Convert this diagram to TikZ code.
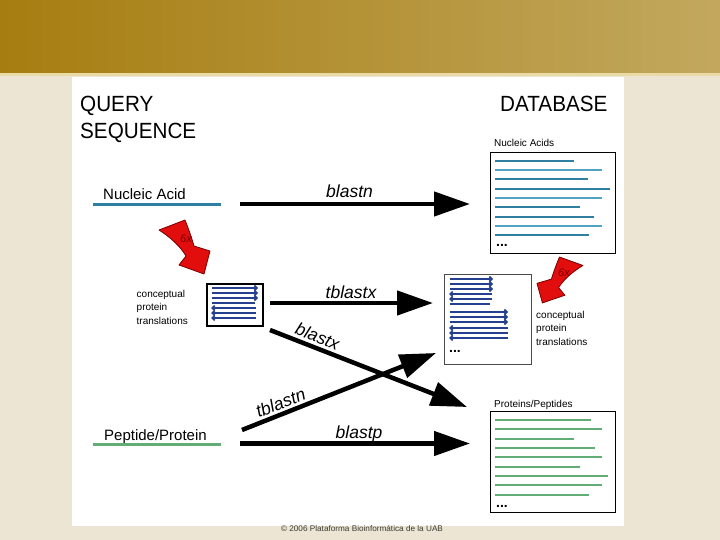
\documentclass[tikz,border=0pt]{standalone}
\usepackage{fontspec}
\setmainfont{Liberation Sans}
\usetikzlibrary{arrows.meta}

\definecolor{bandgold}{HTML}{A67D10}
\definecolor{bandlight}{HTML}{C2A85E}
\definecolor{bandedge}{HTML}{E9DAA6}
\definecolor{slidebg}{HTML}{ECE5D3}
\definecolor{nucblue}{HTML}{2F7FA3}
\definecolor{nuclight}{HTML}{52A2C4}
\definecolor{protgreen}{HTML}{62AC75}
\definecolor{transnavy}{HTML}{24408E}
\definecolor{sixred}{HTML}{E20D0D}
\definecolor{sixdark}{HTML}{7A0000}
\definecolor{creditgray}{HTML}{3C3A34}

\tikzset{
  search/.style={line width=4.5pt, -{Triangle[length=36pt,width=24pt]}},
  progname/.style={font=\fontsize{17.5}{17.5}\selectfont\itshape, inner sep=0pt},
  qtitle/.style={font=\fontsize{22}{26.5}\selectfont, inner sep=0pt, xscale=0.94},
  seqname/.style={font=\fontsize{15}{15}\selectfont, inner sep=0pt},
  dbname/.style={font=\fontsize{10}{10}\selectfont, inner sep=0pt},
  transnote/.style={font=\fontsize{10}{13.3}\selectfont, inner sep=0pt, align=left},
  dbbox/.style={draw=black, line width=1pt, inner sep=0pt, anchor=north west},
  transbox/.style={draw=black, line width=1.8pt, inner sep=0pt, anchor=north west},
  dbrow/.style={line width=2pt},
  transrow/.style={draw=transnavy, line width=1.7pt},
  fwdrow/.style={transrow, -{Straight Barb[length=2.5pt,width=5pt]}},
  revrow/.style={transrow, {Straight Barb[length=2.5pt,width=5pt]}-},
  sixfold/.style={fill=sixred, draw=sixdark, line width=0.8pt, line join=round},
  sixlabel/.style={font=\fontsize{11}{11}\selectfont\itshape, text=sixdark, inner sep=0pt},
  dbdots/.style={font=\fontsize{14}{14}\selectfont\bfseries, inner sep=0pt, anchor=base west},
}

\begin{document}
\begin{tikzpicture}[x=1pt,y=-1pt]
    % slide size
      \useasboundingbox (0,0) rectangle (720,540);

    % red 6x translation arrow, drawn for the query side
      \newcommand{\sixarrow}[2]{%
        \filldraw[sixfold] (159,230) -- (185,220) .. controls (189,230) and (192,239) .. (194,246)
          -- (210,251) -- (204,274) -- (179,265) -- (186,256)
          .. controls (180,246) and (170,237) .. cycle;
        \node[sixlabel] (#1) at (#2) {6x};
      }

    % Draw the slide background
      \fill[slidebg] (0,0) rectangle (720,540);
      \shade[left color=bandgold, middle color=bandgold, right color=bandlight] (0,0) rectangle (720,73);
      \fill[bandedge] (0,73) rectangle (720,76);
      \fill[white] (72,77) rectangle (624,526);

    % Draw the headings
      \node[qtitle, align=left, anchor=north west] (query) at (80,96) {QUERY\\SEQUENCE};
      \node[qtitle, anchor=base west] (database) at (500,112) {DATABASE};

    % Draw the query sequences
      \node[seqname, anchor=base west] (nucacid) at (103,200) {Nucleic Acid};
      \draw[nucblue, line width=3pt] (93,205) -- (221,205);
      \node[seqname, anchor=base west] (peptide) at (104,440.7) {Peptide/Protein};
      \draw[protgreen, line width=3pt] (93,444) -- (221,444);

    % Draw the nucleic acid database
      \node[dbname, anchor=base west] (nucdbname) at (494,146.7) {Nucleic Acids};
      \node[dbbox, minimum width=125pt, minimum height=101pt] (nucdb) at (489.5,152) {};
      \foreach \y/\x/\c in {160.7/574/nucblue, 170/602/nuclight, 179.3/588/nucblue,
                             188.7/610/nucblue, 198/602/nuclight, 207.3/580/nucblue,
                             216.7/594/nucblue, 226/602/nuclight, 235.3/589/nucblue}
        \draw[dbrow, \c] (495,\y) -- (\x,\y);
      \node[dbdots] (nucdots) at (496,246) {...};

    % Draw the protein database
      \node[dbname, anchor=base west] (protdbname) at (494,407.3) {Proteins/Peptides};
      \node[dbbox, minimum width=125pt, minimum height=101pt] (protdb) at (489.5,410.7) {};
      \foreach \y/\x in {420/591, 429.3/602, 439/574, 448/595, 457.3/602,
                         466.7/580, 476/608, 485.3/602, 495/589}
        \draw[dbrow, protgreen] (495,\y) -- (\x,\y);
      \node[dbdots] (protdots) at (496,507) {...};

    % Draw the conceptual translations of the query
      \node[transbox, minimum width=56pt, minimum height=42pt] (qtrans) at (206,283) {};
      \foreach \y in {288,293,298}
        \draw[fwdrow] (212,\y) -- (258,\y);
      \draw[transrow] (212,303) -- (255,303);
      \foreach \y in {308,313,318}
        \draw[revrow] (211,\y) -- (256,\y);
      \node[transnote, anchor=north west] (qnote) at (136.5,290) {conceptual\\protein\\translations};

    % Draw the conceptual translations of the database
      \node[dbbox, draw=black!70, minimum width=87pt, minimum height=90pt] (dbtrans) at (443.5,273.5) {};
      \foreach \y in {279,284,289}
        \draw[fwdrow] (450,\y) -- (493,\y);
      \foreach \y in {294,299}
        \draw[revrow] (449,\y) -- (492,\y);
      \draw[transrow] (450,304) -- (490,304);
      \foreach \y in {312,317,322}
        \draw[fwdrow] (450,\y) -- (508,\y);
      \foreach \y in {328,333,338}
        \draw[revrow] (449,\y) -- (508,\y);
      \node[dbdots] (transdots) at (449,352) {...};
      \node[transnote, anchor=north west] (dbnote) at (536,311) {conceptual\\protein\\translations};

    % Draw the 6x translation arrows
      \sixarrow{sixq}{186,239}
      \begin{scope}[shift={(726,70)}, xscale=-0.9, yscale=0.85]
        \sixarrow{sixdb}{180,238}
      \end{scope}

    % Draw the search arrows
      \coordinate (blastn-from) at (240,204);
      \coordinate (blastn-to) at (470,204);
      \coordinate (tblastx-from) at (270,303);
      \coordinate (tblastx-to) at (433,303);
      \coordinate (blastx-from) at (270,330);
      \coordinate (blastx-to) at (467,407);
      \coordinate (tblastn-from) at (242,430);
      \coordinate (tblastn-to) at (436,353);
      \coordinate (blastp-from) at (240,443.5);
      \coordinate (blastp-to) at (470,443.5);

      \draw[search] (blastn-from) -- (blastn-to);
      \draw[search] (tblastx-from) -- (tblastx-to);
      \draw[search] (blastx-from) -- node[progname, sloped, pos=0.22, above=3pt] (blastx) {blastx} (blastx-to);
      \draw[search] (tblastn-from) -- node[progname, sloped, pos=0.22, above=2.5pt] (tblastn) {tblastn} (tblastn-to);
      \draw[search] (blastp-from) -- (blastp-to);

    % Draw the program names
      \node[progname, anchor=base] (blastn) at (349.5,197) {blastn};
      \node[progname, anchor=base] (tblastx) at (351,298.3) {tblastx};
      \node[progname, anchor=base] (blastp) at (359,438.3) {blastp};

    % Draw the credit line
      \node[font=\fontsize{8.2}{8.2}\selectfont, text=creditgray, inner sep=0pt] (credit) at (362,529) {© 2006 Plataforma Bioinformática de la UAB};
\end{tikzpicture}
\end{document}
